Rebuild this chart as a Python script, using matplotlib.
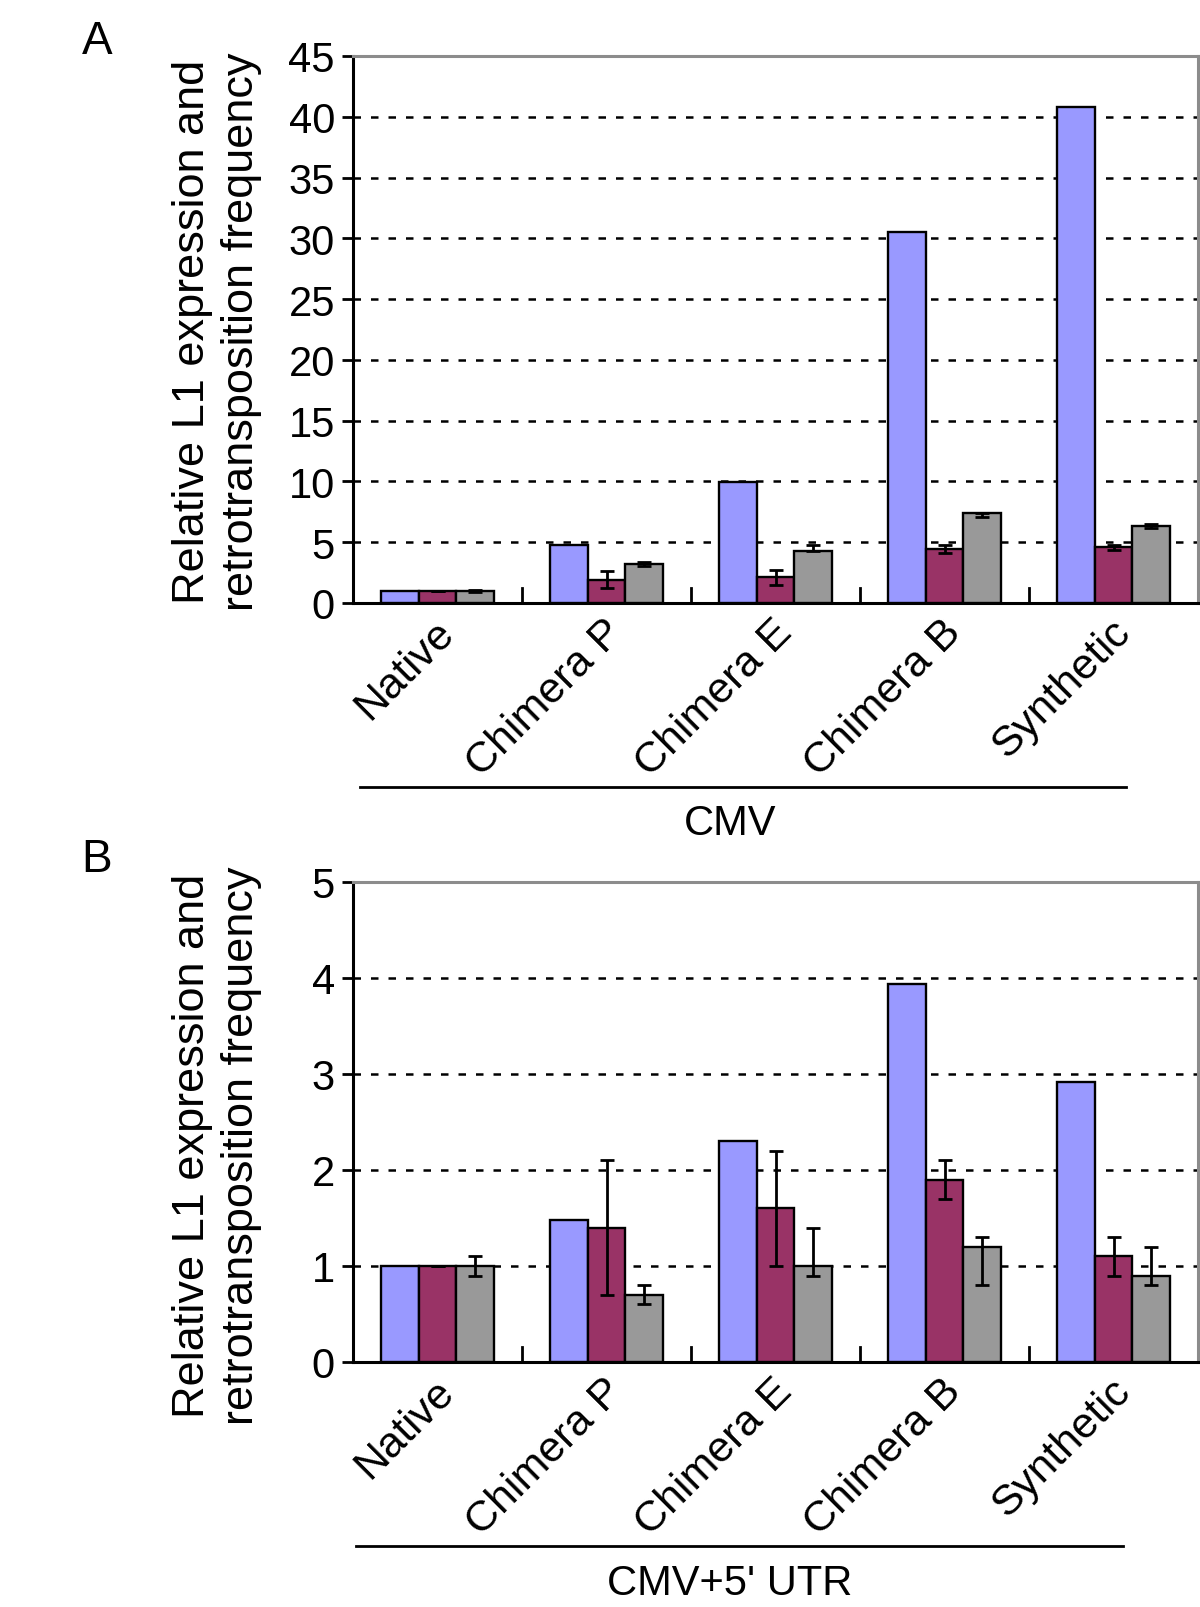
import matplotlib
matplotlib.use("Agg")
import matplotlib.pyplot as plt
import numpy as np
from matplotlib.transforms import ScaledTranslation, blended_transform_factory

plt.rcParams['font.family'] = ['Liberation Sans', 'DejaVu Sans']

categories = ["Native", "Chimera P", "Chimera E", "Chimera B", "Synthetic"]

# Panel A (CMV)
a_blue = [1.0, 4.8, 9.95, 30.5, 40.8]
a_red = [1.0, 1.9, 2.1, 4.45, 4.6]
a_red_lo = [0.0, 0.7, 0.6, 0.3, 0.2]
a_red_hi = [0.0, 0.7, 0.65, 0.3, 0.2]
a_gray = [1.0, 3.2, 4.25, 7.4, 6.35]
a_gray_lo = [0.1, 0.15, 0.0, 0.3, 0.15]
a_gray_hi = [0.1, 0.15, 0.5, 0.0, 0.15]
a_ticks = [0, 5, 10, 15, 20, 25, 30, 35, 40, 45]

# Panel B (CMV+5' UTR)
b_blue = [1.0, 1.48, 2.3, 3.94, 2.92]
b_red = [1.0, 1.4, 1.6, 1.9, 1.1]
b_red_lo = [0.0, 0.7, 0.6, 0.2, 0.2]
b_red_hi = [0.0, 0.7, 0.6, 0.2, 0.2]
b_gray = [1.0, 0.7, 1.0, 1.2, 0.9]
b_gray_lo = [0.1, 0.1, 0.1, 0.4, 0.1]
b_gray_hi = [0.1, 0.1, 0.4, 0.1, 0.3]
b_ticks = [0, 1, 2, 3, 4, 5]

colors = ["#9999FF", "#993366", "#999999"]
ylabel = "Relative L1 expression and\nretrotransposition frequency"

W, H = 1200, 1608
fig = plt.figure(figsize=(12, 16.08), dpi=100)

def panel(top, bottom, blue, red, red_lo, red_hi, gray, gray_lo, gray_hi, ticks,
          letter, group, line_y, text_y, line_x, ylab_y):
    left, right = 353, 1198
    ax = fig.add_axes([left / W, 1 - bottom / H, (right - left) / W, (bottom - top) / H])
    n = len(categories)
    x = np.arange(n)
    w = 0.222
    ekw = dict(ecolor="black", elinewidth=2, capsize=5, capthick=2, zorder=4)
    ax.bar(x - w, blue, w, color=colors[0], edgecolor="black", linewidth=1.7, zorder=3)
    ax.bar(x, red, w, color=colors[1], edgecolor="black", linewidth=1.7, zorder=3,
           yerr=[red_lo, red_hi], error_kw=ekw)
    ax.bar(x + w, gray, w, color=colors[2], edgecolor="black", linewidth=1.7, zorder=3,
           yerr=[gray_lo, gray_hi], error_kw=ekw)
    ax.set_xlim(-0.5, n - 0.5)
    ax.set_ylim(ticks[0], ticks[-1])
    ax.set_yticks(ticks)
    for t in ticks[1:-1]:
        ax.axhline(t, color="black", linestyle=(0, (3, 4)), linewidth=1.8, zorder=1)
    ax.tick_params(axis="y", direction="out", length=8, width=2, labelsize=30, pad=5)
    ax.set_xticks(x)
    ax.set_xticklabels(categories, rotation=45, ha="right", rotation_mode="anchor", fontsize=31)
    ax.tick_params(axis="x", length=0, pad=6)
    off = ScaledTranslation(-0.04, 0.0, fig.dpi_scale_trans)
    for lab in ax.get_xticklabels():
        lab.set_transform(lab.get_transform() + off)
    # group separator ticks
    tr = blended_transform_factory(ax.transData, ax.transAxes)
    frac = 15 / (bottom - top)
    for b in np.arange(0.5, n - 0.5, 1.0):
        ax.plot([b, b], [0, frac], color="black", linewidth=2, zorder=2, transform=tr, clip_on=False)
    for s in ["left", "bottom"]:
        ax.spines[s].set_color("black")
        ax.spines[s].set_linewidth(2.2)
    for s in ["top", "right"]:
        ax.spines[s].set_color("#8c8c8c")
        ax.spines[s].set_linewidth(2.2)
    fig.text(217 / W, 1 - ylab_y / H, ylabel, fontsize=32.5, rotation=90, ha="center", va="center",
             linespacing=1.25, multialignment="center")
    fig.text(97 / W, 1 - letter[1] / H, letter[0], fontsize=33, ha="center", va="center")
    fig.add_artist(plt.Line2D([line_x[0] / W, line_x[1] / W], [1 - line_y / H] * 2,
                              color="black", linewidth=2, transform=fig.transFigure))
    fig.text(730 / W, 1 - text_y / H, group, fontsize=30, ha="center", va="center")
    return ax

panel(57, 604, a_blue, a_red, a_red_lo, a_red_hi, a_gray, a_gray_lo, a_gray_hi, a_ticks,
      ("A", 42), "CMV", 788, 824, (360, 1126), 332)
panel(883, 1363, b_blue, b_red, b_red_lo, b_red_hi, b_gray, b_gray_lo, b_gray_hi, b_ticks,
      ("B", 860), "CMV+5' UTR", 1547, 1584, (356, 1123), 1146)

fig.savefig("out.png", dpi=100)
